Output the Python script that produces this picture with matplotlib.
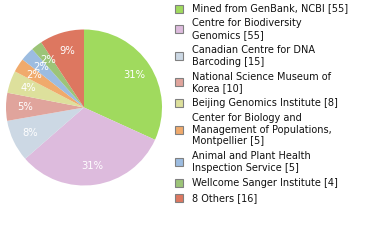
import matplotlib
matplotlib.use("Agg")
import matplotlib.pyplot as plt
from matplotlib.patches import Rectangle

labels = [
    "Mined from GenBank, NCBI [55]",
    "Centre for Biodiversity\nGenomics [55]",
    "Canadian Centre for DNA\nBarcoding [15]",
    "National Science Museum of\nKorea [10]",
    "Beijing Genomics Institute [8]",
    "Center for Biology and\nManagement of Populations,\nMontpellier [5]",
    "Animal and Plant Health\nInspection Service [5]",
    "Wellcome Sanger Institute [4]",
    "8 Others [16]",
]
values = [55, 55, 15, 10, 8, 5, 5, 4, 16]
colors = ["#A0DA5E", "#DDBBDD", "#CCD8E4", "#E0A49C", "#DDE09C",
          "#F0AA6C", "#9CBCE0", "#9CC478", "#DD7760"]

W, H = 380, 240
fig = plt.figure(figsize=(W / 100, H / 100), dpi=100)

cx, cy, r = 84, 107.5, 78
ax = fig.add_axes([(cx - r) / W, 1 - (cy + r) / H, 2 * r / W, 2 * r / H])
wedges, texts, autotexts = ax.pie(
    values, colors=colors, startangle=90, counterclock=False,
    autopct=lambda p: f"{int(p)}%", pctdistance=0.76,
    wedgeprops=dict(linewidth=0),
    textprops=dict(color="white", fontsize=7.2),
)
ax.set_aspect("equal")
ax.set_xlim(-1, 1)
ax.set_ylim(-1, 1)
ax.axis("off")

# legend
L, G = 11.8, 14.8
y = 8.5
for lab, col in zip(labels, colors):
    n = lab.count("\n") + 1
    mid = y + (n - 1) * L / 2
    sq = 8
    fig.patches.append(Rectangle((175 / W, 1 - (mid + sq / 2) / H), sq / W, sq / H,
                                 transform=fig.transFigure, facecolor=col,
                                 edgecolor="#808080", linewidth=0.8))
    for i, line in enumerate(lab.split("\n")):
        fig.text(192 / W, 1 - (y + i * L) / H, line, fontsize=7,
                 color="#111111", va="center", ha="left")
    y += (n - 1) * L + G

fig.savefig("out.png", dpi=100)
